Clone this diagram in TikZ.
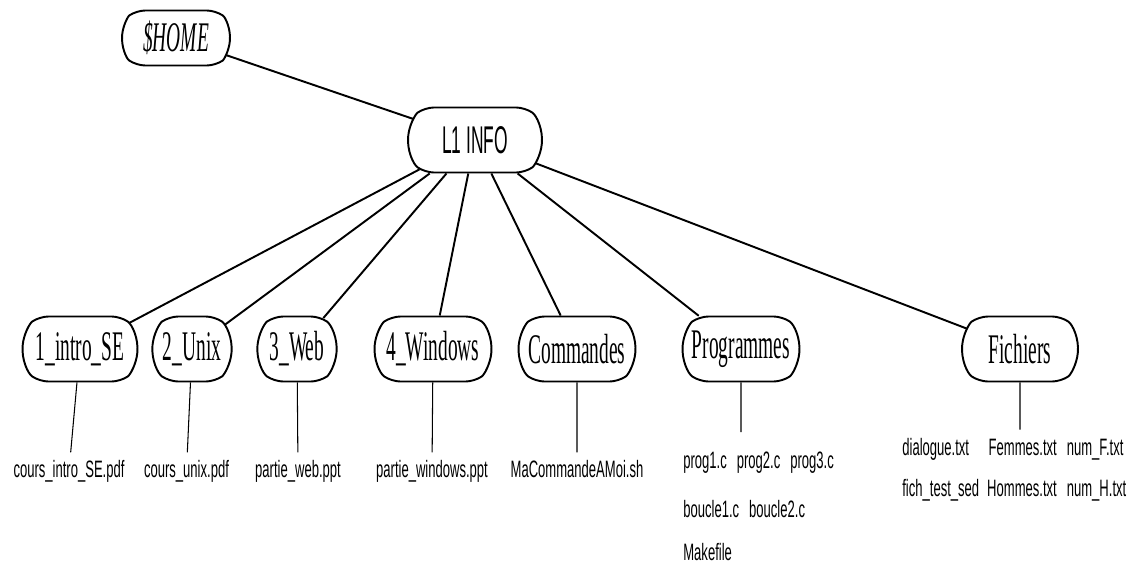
\documentclass[tikz,border=0pt]{standalone}
\usepackage{fontspec}
\usetikzlibrary{shapes.misc}
\newfontfamily\dirfont[FakeStretch=0.46]{Liberation Serif}
\newfontfamily\infofont[FakeStretch=0.45]{Liberation Sans}
\newfontfamily\filefont[FakeStretch=0.55]{Liberation Sans}

\begin{document}
\begin{tikzpicture}[
  dir/.style={draw, line width=1.1pt, rounded rectangle, rounded rectangle arc length=110,
    rounded corners=5pt, minimum height=1.3cm, minimum width=1.94cm, inner xsep=-0.2cm,
    font=\dirfont\fontsize{24}{28}\selectfont},
  file/.style={inner sep=4pt, font=\filefont\fontsize{13.5}{16}\selectfont},
  link/.style={line width=1.1pt},
  sublink/.style={line width=0.6pt}]
  \useasboundingbox (0,0) rectangle (22.86,-11.28);

  % Top of the tree
  \node[dir, minimum width=1.76cm, minimum height=1.1cm,
    font=\dirfont\itshape\fontsize{24}{28}\selectfont] (home) at (3.52,-0.76) {\$HOME};
  \node[dir, minimum width=2.28cm, font=\infofont\fontsize{22}{26}\selectfont] (l1) at (9.5,-2.8) {L1 INFO};

  % Sub folders
  \node[dir, minimum width=1.9cm] (intro) at (1.6,-6.98) {1\_intro\_SE};
  \node[dir, minimum width=1.1cm] (unix) at (3.84,-6.98) {2\_Unix};
  \node[dir, minimum width=1.1cm] (web) at (5.94,-6.98) {3\_Web};
  \node[dir] (win) at (8.66,-6.98) {4\_Windows};
  \node[dir] (cmd) at (11.54,-6.98) {Commandes};
  \node[dir] (prog) at (14.82,-6.98) {Programmes};
  \node[dir, minimum width=1.92cm] (fich) at (20.4,-6.98) {Fichiers};

  % Files
  \node[file, anchor=base] (introfile) at (1.38,-9.54) {cours\_intro\_SE.pdf};
  \node[file, anchor=base] (unixfile) at (3.73,-9.54) {cours\_unix.pdf};
  \node[file, anchor=base] (webfile) at (5.96,-9.54) {partie\_web.ppt};
  \node[file, anchor=base] (winfile) at (8.64,-9.54) {partie\_windows.ppt};
  \node[file, anchor=base] (cmdfile) at (11.54,-9.54) {MaCommandeAMoi.sh};
  \node[file, inner xsep=0pt, inner ysep=9pt, anchor=base west] (progfiles) at (13.66,-9.36) {%
    \begin{tabular}[t]{@{}l@{}}
      prog1.c\hspace{0.2cm}prog2.c\hspace{0.2cm}prog3.c\\[0.42cm]
      boucle1.c\hspace{0.2cm}boucle2.c\\[0.3cm]
      Makefile
    \end{tabular}};
  \node[file, inner xsep=0pt, inner ysep=3pt, anchor=base west] (fichfiles) at (18.04,-9.1) {%
    \begin{tabular}[t]{@{}l@{\hspace{0.16cm}}r@{\hspace{0.2cm}}l@{}}
      dialogue.txt & Femmes.txt & num\_F.txt\\[7.8pt]
      fich\_test\_sed & Hommes.txt & num\_H.txt
    \end{tabular}};

  % Links
  \draw[link] (home) -- (l1);
  \foreach \d in {intro,unix,web,win,cmd,prog,fich}
    \draw[link] (l1) -- (\d);

  \draw[sublink] (intro) -- (introfile);
  \draw[sublink] (unix) -- (unixfile);
  \draw[sublink] (web) -- (webfile);
  \draw[sublink] (win) -- (winfile);
  \draw[sublink] (cmd) -- (cmdfile);
  \draw[sublink] (prog) -- (prog |- progfiles.north);
  \draw[sublink] (fich) -- (fich |- fichfiles.north);
\end{tikzpicture}
\end{document}
